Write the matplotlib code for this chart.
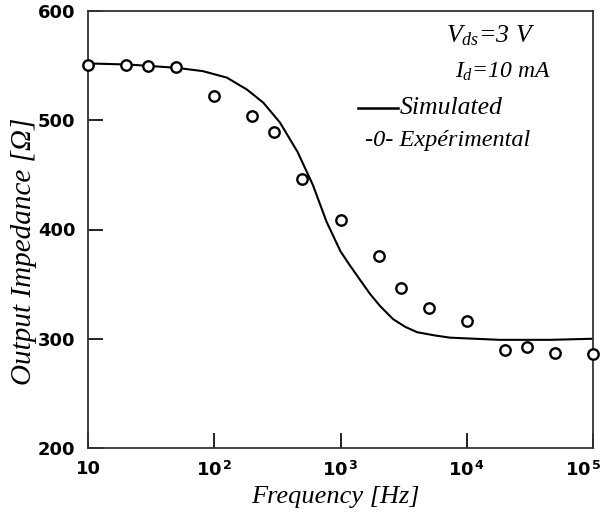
import matplotlib
matplotlib.use("Agg")
import matplotlib.pyplot as plt
from matplotlib.transforms import ScaledTranslation

# Experimental points (Hz, Ohm)
exp_freq = [10, 20, 30, 50, 100, 200, 300, 500, 1000, 2000, 3000, 5000,
            10000, 20000, 30000, 50000, 100000]
exp_imp = [551, 551, 550, 549, 522, 504, 489, 446, 409, 376, 346, 328,
           316, 290, 292, 287, 286]

# Simulated curve
sim_freq = [10, 21, 50, 81, 126, 182, 245, 331, 457, 603, 776, 1000,
            1189, 1426, 1714, 2056, 2606, 3243, 4036, 5610, 7362,
            18200, 45700, 100000]
sim_imp = [552, 551, 548, 545, 539, 528, 516, 498, 471, 441, 407, 380,
           367, 354, 341, 330, 318, 311, 306, 303, 301,
           299, 299, 300]

xticks = [10, 100, 1000, 10000, 100000]
xtick_labels = ["10", r"$10^{\,2}$", r"$10^{\,3}$", r"$10^{\,4}$", r"$10^{\,5}$"]
yticks = [200, 300, 400, 500, 600]

plt.rcParams["mathtext.fontset"] = "custom"
plt.rcParams["mathtext.rm"] = "DejaVu Sans:bold"
plt.rcParams["mathtext.it"] = "Liberation Serif:italic"

fig = plt.figure(figsize=(6.05, 5.26), dpi=100)
ax = fig.add_axes([88 / 605, 78 / 526, 505 / 605, 437 / 526])

ax.plot(sim_freq, sim_imp, color="black", lw=1.5, zorder=2)
ax.plot(exp_freq, exp_imp, "o", ms=7.5, mfc="white", mec="black", mew=1.7,
        clip_on=False, zorder=3)

ax.set_xscale("log")
ax.set_xlim(10, 100000)
ax.set_ylim(200, 597)
ax.minorticks_off()

tick_font = dict(family="DejaVu Sans", weight="bold", size=13)
ax.set_xticks(xticks)
ax.set_xticklabels(xtick_labels, fontdict=tick_font)
ax.set_yticks(yticks)
ax.set_yticklabels([str(v) for v in yticks], fontdict=tick_font)
ax.tick_params(direction="in", length=11, width=1.4, pad=9, color="#222222")

# last x label sits at the right edge, nudge it inside the figure
last = ax.get_xticklabels()[-1]
last.set_transform(last.get_transform() + ScaledTranslation(-10 / 100, 0, fig.dpi_scale_trans))

for s in ax.spines.values():
    s.set_linewidth(1.3)
    s.set_color("#333333")

label_font = dict(family="Liberation Serif", style="italic")
fig.text(335 / 605, 1 - 497 / 526, "Frequency [Hz]", ha="center", va="center",
         size=19, **label_font)
fig.text(24 / 605, 1 - 251 / 526, "Output Impedance [\u03a9]", ha="center", va="center",
         rotation=90, size=21, **label_font)

note_font = dict(family="Liberation Serif", style="italic")
ax.text(0.709, 0.943, r"$V_{ds}$=3 V", transform=ax.transAxes, va="center", size=18.5, **note_font)
ax.text(0.727, 0.860, r"$I_{d}$=10 mA", transform=ax.transAxes, va="center", size=17, **note_font)
ax.plot([0.535, 0.614], [0.778, 0.778], color="black", lw=1.8, transform=ax.transAxes)
ax.text(0.618, 0.778, "Simulated", transform=ax.transAxes, va="center", size=18.5, **note_font)
ax.text(0.549, 0.703, "-0- Exp\u00e9rimental", transform=ax.transAxes, va="center", size=17.5, **note_font)

fig.savefig("out.png", dpi=100)
